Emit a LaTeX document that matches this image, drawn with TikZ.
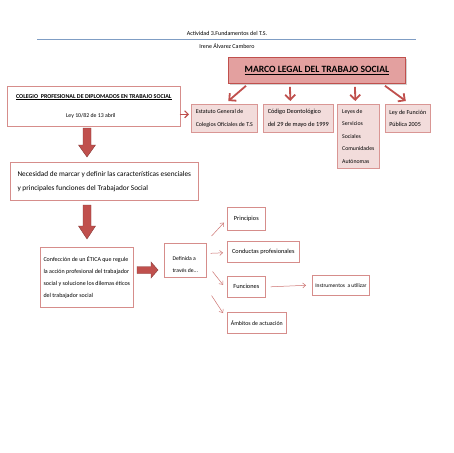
\documentclass[tikz,border=0pt]{standalone}
\usepackage{fontspec}
\setmainfont{Carlito}
\usetikzlibrary{shadows,calc,arrows.meta}
\definecolor{redA}{HTML}{C0504D}
\definecolor{pinkA}{HTML}{F2DCDB}
\definecolor{pinkB}{HTML}{E3A09F}
\definecolor{borderA}{HTML}{D99694}
\definecolor{lineBlue}{HTML}{7F9DC4}
\newcommand\fs[2]{\fontsize{#1}{#2}\selectfont}
\begin{document}
\begin{tikzpicture}[x=1pt,y=-1pt,
  wbox/.style={draw=redA!65, fill=white, line width=0.6pt, anchor=north west, inner xsep=3pt, inner ysep=0pt, font=\fs{6.3}{12.5}, align=left},
  pbox/.style={wbox, draw=borderA, fill=pinkA},
  thinarrow/.style={-{Straight Barb[length=3pt,width=5pt]}, draw=redA!80, line width=0.5pt},
  thickarrow/.style={-{Straight Barb[length=5pt,width=10pt]}, draw=redA, line width=1.8pt},
  blockarrow/.style={fill=redA, draw=redA!70!black, line width=0.4pt},
  hdr/.style={font=\fs{6.0}{7}, inner sep=0pt}
]
\useasboundingbox[fill=white] (0,0) rectangle (453,453);

% header
\node[hdr] (act) at (227,33) {Actividad 3.Fundamentos del T.S.};
\coordinate (hl) at (37,39.5);
\coordinate (hr) at (416,39.5);
\draw[lineBlue, line width=0.6pt] (hl) -- (hr);
\node[hdr] (irene) at (227,46) {Irene Álvarez Cambero};

% title
\node[anchor=north west, draw=redA, fill=pinkB, line width=0.8pt, minimum width=177pt, minimum height=26pt, inner sep=0pt,
  drop shadow={shadow xshift=1.2pt, shadow yshift=-1.2pt, fill=black!35},
  font=\fs{9.6}{11}] (title) at (228,57) {\underline{\textbf{MARCO LEGAL DEL TRABAJO SOCIAL}}};

% top row
\node[wbox, align=center, minimum width=173pt, minimum height=40pt] (colegio) at (7,86)
  {{\fs{6.0}{7}\underline{\textbf{COLEGIO\ \ PROFESIONAL DE DIPLOMADOS EN TRABAJO SOCIAL}}}\\[7pt]{\fs{5.8}{7}Ley 10/82 de 13 abril\hspace*{6pt}}};
\node[pbox, minimum width=66pt, minimum height=28pt, font=\fs{5.9}{12.5}] (estatuto) at (191,104)
  {Estatuto General de\\Colegios Oficiales de T.S};
\node[pbox, minimum width=70pt, minimum height=28pt] (codigo) at (263,104)
  {Código Deontológico\\del 29 de mayo de 1999};
\node[pbox, minimum width=42pt, minimum height=64pt, font=\fs{5.8}{12.5}] (leyes) at (337,104)
  {Leyes de\\Servicios\\Sociales\\Comunidades\\Autónomas};
\node[pbox, minimum width=45pt, minimum height=28pt, font=\fs{6.1}{12.5}] (leyfun) at (385,104)
  {Ley de Función\\Pública 2005};

% middle
\node[wbox, minimum width=188pt, minimum height=38pt, font=\fs{7.3}{14}] (necesidad) at (10,162)
  {Necesidad de marcar y definir las características esenciales\\y principales funciones del Trabajador Social};
\node[wbox, minimum width=93pt, minimum height=60pt, font=\fs{6.0}{12}] (confeccion) at (40,247)
  {Confección de un ÉTICA que regule\\la acción profesional del trabajador\\social y solucione los dilemas éticos\\del trabajador social};
\node[wbox, minimum width=42pt, minimum height=34pt, font=\fs{5.7}{11.5}, text height=23.5pt] (definida) at (164,243)
  {Definida a\\través de...};
\node[wbox, minimum width=38pt, minimum height=23pt] (principios) at (227,207) {Principios};
\node[wbox, minimum width=72pt, minimum height=21pt] (conductas) at (227,241) {Conductas profesionales};
\node[wbox, minimum width=38pt, minimum height=21pt] (funciones) at (227,276) {Funciones};
\node[wbox, minimum width=59pt, minimum height=21pt, font=\fs{5.9}{12}] (ambitos) at (227,312) {Ámbitos de actuación};
\node[wbox, minimum width=54pt, minimum height=20pt, font=\fs{5.5}{10}] (instr) at (312,275) {Instrumentos\ \ a utilizar};

% thick arrows from title
\draw[thickarrow] ($(title.south west)+(18,2)$) -- ($(estatuto.north)+(4,-3)$);
\draw[thickarrow] ($(title.south west)+(62,3)$) -- ($(codigo.north)+(-8,-3)$);
\draw[thickarrow] ($(title.south west)+(127,3)$) -- ($(leyes.north)+(-3,-3)$);
\draw[thickarrow] ($(title.south west)+(157,2)$) -- ($(leyfun.north)+(-2,-3)$);

% colegio -> estatuto
\draw[-{Straight Barb[length=3.5pt,width=7pt]}, draw=redA, line width=1.2pt] ($(colegio.east)+(-1,8)$) -- ($(estatuto.west)+(-2,-4)$);

% block arrows
\fill[blockarrow] (83,128) -- (91,128) -- (91,145) -- (95.5,145) -- (87,157) -- (78.5,145) -- (83,145) -- cycle;
\fill[blockarrow] (83,205) -- (91,205) -- (91,226) -- (95.5,226) -- (87,239) -- (78.5,226) -- (83,226) -- cycle;
\fill[blockarrow] (137,266.5) -- (151,266.5) -- (151,262) -- (158,270) -- (151,278) -- (151,273.5) -- (137,273.5) -- cycle;

% definida arrows
\draw[thinarrow] ($(definida.north east)+(5,-7)$) -- ($(principios.south west)+(-3,-8)$);
\draw[thinarrow] ($(definida.east)+(4,-7)$) -- ($(conductas.west)+(-4,1)$);
\draw[thinarrow] ($(definida.south east)+(6,-6)$) -- ($(funciones.west)+(-4,-2)$);
\draw[thinarrow] ($(definida.south east)+(5,18)$) -- ($(ambitos.north west)+(-4,1)$);
\draw[thinarrow] ($(funciones.east)+(5,0)$) -- ($(instr.west)+(-6,0)$);
\end{tikzpicture}
\end{document}
